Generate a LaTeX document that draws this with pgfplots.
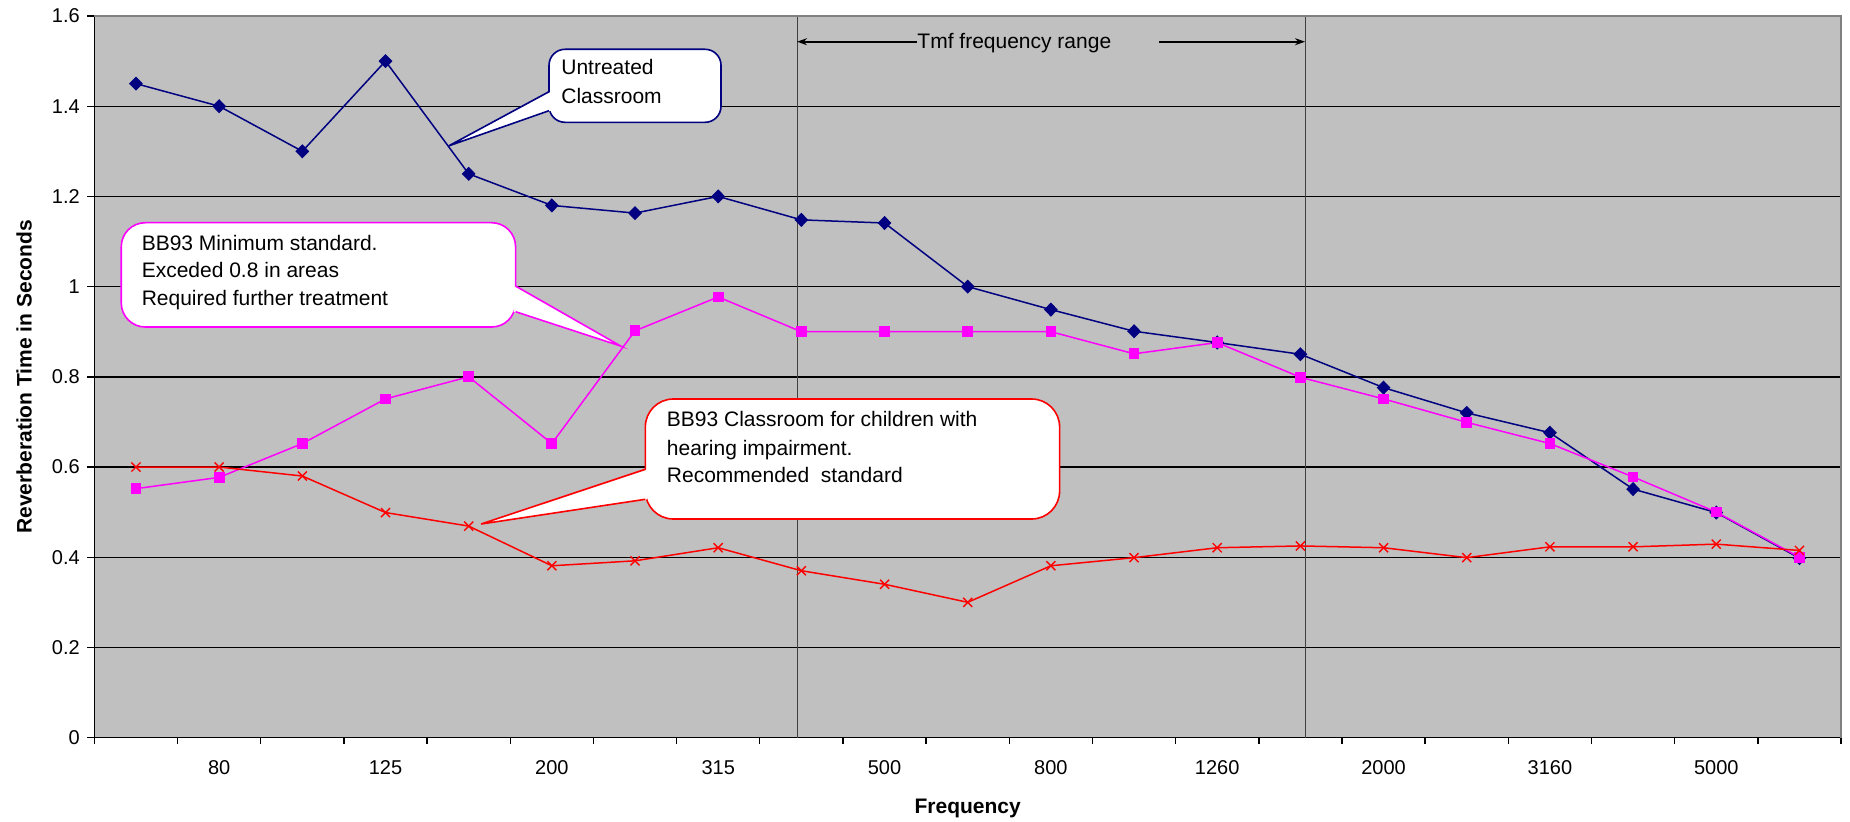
\documentclass[border=0pt]{standalone}
\usepackage{fontspec}
\setmainfont{Liberation Sans}
\usepackage{pgfplots}
\pgfplotsset{compat=1.18}
\usetikzlibrary{arrows.meta}
\definecolor{navyb}{HTML}{000080}
\definecolor{magb}{HTML}{FF00FF}
\definecolor{redb}{HTML}{FF0000}
\definecolor{plotbg}{HTML}{C0C0C0}
\definecolor{bordergray}{HTML}{808080}
\definecolor{vgray}{HTML}{404040}
\begin{document}
\begin{tikzpicture}
\path[use as bounding box] (-47.2pt,-41.7pt) rectangle (877.8pt,368.8pt);
\begin{axis}[
 at={(0pt,0pt)}, anchor=south west,
 scale only axis, width=873.3pt, height=360.8pt,
 xmin=-0.5, xmax=20.5, ymin=0, ymax=1.6,
 axis lines*=left,
 axis line style={black, line width=0.7pt},
 axis background/.style={fill=plotbg},
 xtick={1,3,...,19},
 xticklabels={80,125,200,315,500,800,1260,2000,3160,5000},
 minor xtick={-0.5,0.5,...,20.5},
 ytick={0,0.2,0.4,0.6,0.8,1,1.2,1.4,1.6},
 tick align=outside,
 major tick length=3.8pt, minor tick length=3pt,
 every major x tick/.style={draw=none},
 every minor x tick/.style={black, line width=0.7pt},
 every major y tick/.style={black, line width=0.7pt},
 ymajorgrids, major grid style={black, line width=0.7pt},
 tick label style={font=\fontsize{10}{12}\selectfont},
 xticklabel style={yshift=-4pt},
 /pgf/number format/assume math mode=true,
 xlabel={Frequency}, ylabel={Reverberation Time in Seconds},
 every axis x label/.style={at={(axis description cs:0.5,0)}, anchor=base, yshift=-37.85pt, font=\fontsize{10.5}{12}\selectfont\bfseries},
 every axis y label/.style={at={(axis description cs:-0.0403,0.5)}, rotate=90, anchor=center, font=\fontsize{10.5}{12}\selectfont\bfseries},
 clip=false,
]
% Tmf range lines
\draw[vgray, line width=0.5pt] (axis cs:7.948,0) -- (axis cs:7.948,1.6);
\draw[vgray, line width=0.5pt] (axis cs:14.056,0) -- (axis cs:14.056,1.6);

\addplot[navyb, line width=0.75pt, mark=diamond*, mark size=3pt, mark options={solid, fill=navyb, xscale=1.3}] coordinates {
(0,1.45) (1,1.40) (2,1.30) (3,1.50) (4,1.25) (5,1.18) (6,1.163) (7,1.20) (8,1.148) (9,1.141)
(10,1.00) (11,0.949) (12,0.901) (13,0.876) (14,0.850) (15,0.776) (16,0.720) (17,0.676) (18,0.551) (19,0.499) (20,0.398)};
\addplot[magb, line width=0.75pt, mark=square*, mark size=2.3pt, mark options={solid, fill=magb}] coordinates {
(0,0.552) (1,0.577) (2,0.652) (3,0.751) (4,0.80) (5,0.652) (6,0.902) (7,0.977) (8,0.90) (9,0.90)
(10,0.90) (11,0.90) (12,0.851) (13,0.876) (14,0.799) (15,0.751) (16,0.699) (17,0.652) (18,0.578) (19,0.50) (20,0.40)};
\addplot[redb, line width=0.75pt, mark=x, mark size=3.2pt, mark options={solid, line width=0.7pt}] coordinates {
(0,0.60) (1,0.60) (2,0.580) (3,0.499) (4,0.469) (5,0.381) (6,0.392) (7,0.421) (8,0.370) (9,0.340)
(10,0.30) (11,0.381) (12,0.399) (13,0.421) (14,0.425) (15,0.421) (16,0.399) (17,0.423) (18,0.423) (19,0.429) (20,0.415)};

% border top/right
\draw[bordergray, line width=0.8pt] (rel axis cs:0,1) -- (rel axis cs:1,1) -- (rel axis cs:1,0);

% Tmf arrow
\draw[black, line width=0.8pt, {Stealth[length=5pt,width=3.5pt]}-] (axis cs:7.948,1.543) -- (axis cs:9.391,1.543);
\draw[black, line width=0.8pt, -{Stealth[length=5pt,width=3.5pt]}] (axis cs:12.30,1.543) -- (axis cs:14.056,1.543);
\node[anchor=base west, inner sep=0pt, font=\fontsize{10.5}{14}\selectfont] at (axis cs:9.391,1.528) {Tmf frequency range};

% Callout 1: Untreated Classroom
\draw[navyb, line width=0.8pt, fill=white, rounded corners=8pt] (axis cs:4.966,1.3643) rectangle (axis cs:7.034,1.5262);
\fill[white] (axis cs:4.99,1.4322) -- (axis cs:3.76,1.312) -- (axis cs:4.99,1.3900) -- cycle;
\draw[navyb, line width=0.8pt] (axis cs:4.966,1.4322) -- (axis cs:3.76,1.312) -- (axis cs:4.966,1.3900);
\node[anchor=base west, inner sep=0pt, font=\fontsize{10.5}{14}\selectfont] at (axis cs:5.110,1.4692) {Untreated};
\node[anchor=base west, inner sep=0pt, font=\fontsize{10.5}{14}\selectfont] at (axis cs:5.110,1.4065) {Classroom};

% Callout 2: BB93 Minimum standard
\draw[magb, line width=0.8pt, fill=white, rounded corners=12pt] (axis cs:-0.177,0.9104) rectangle (axis cs:4.564,1.1417);
\fill[white] (axis cs:4.54,1.0013) -- (axis cs:5.83,0.868) -- (axis cs:4.54,0.9443) -- cycle;
\draw[magb, line width=0.8pt] (axis cs:4.564,1.0013) -- (axis cs:5.83,0.868) -- (axis cs:4.564,0.9443);
\node[anchor=base west, inner sep=0pt, font=\fontsize{10.5}{14}\selectfont] at (axis cs:0.065,1.0811) {BB93 Minimum standard.};
\node[anchor=base west, inner sep=0pt, font=\fontsize{10.5}{14}\selectfont] at (axis cs:0.065,1.0206) {Exceded 0.8 in areas};
\node[anchor=base west, inner sep=0pt, font=\fontsize{10.5}{14}\selectfont] at (axis cs:0.065,0.9592) {Required further treatment};

% Callout 3: BB93 Classroom for children with hearing impairment
\draw[redb, line width=0.8pt, fill=white, rounded corners=14pt] (axis cs:6.124,0.4847) rectangle (axis cs:11.105,0.7508);
\fill[white] (axis cs:6.148,0.5949) -- (axis cs:4.15,0.4736) -- (axis cs:6.148,0.5284) -- cycle;
\draw[redb, line width=0.8pt] (axis cs:6.124,0.5949) -- (axis cs:4.15,0.4736) -- (axis cs:6.124,0.5284);
\node[anchor=base west, inner sep=0pt, font=\fontsize{10.5}{14}\selectfont] at (axis cs:6.379,0.6894) {BB93 Classroom for children with};
\node[anchor=base west, inner sep=0pt, font=\fontsize{10.5}{14}\selectfont] at (axis cs:6.379,0.6266) {hearing impairment.};
\node[anchor=base west, inner sep=0pt, font=\fontsize{10.5}{14}\selectfont] at (axis cs:6.379,0.5652) {Recommended\ \ standard};
\end{axis}
\end{tikzpicture}
\end{document}
